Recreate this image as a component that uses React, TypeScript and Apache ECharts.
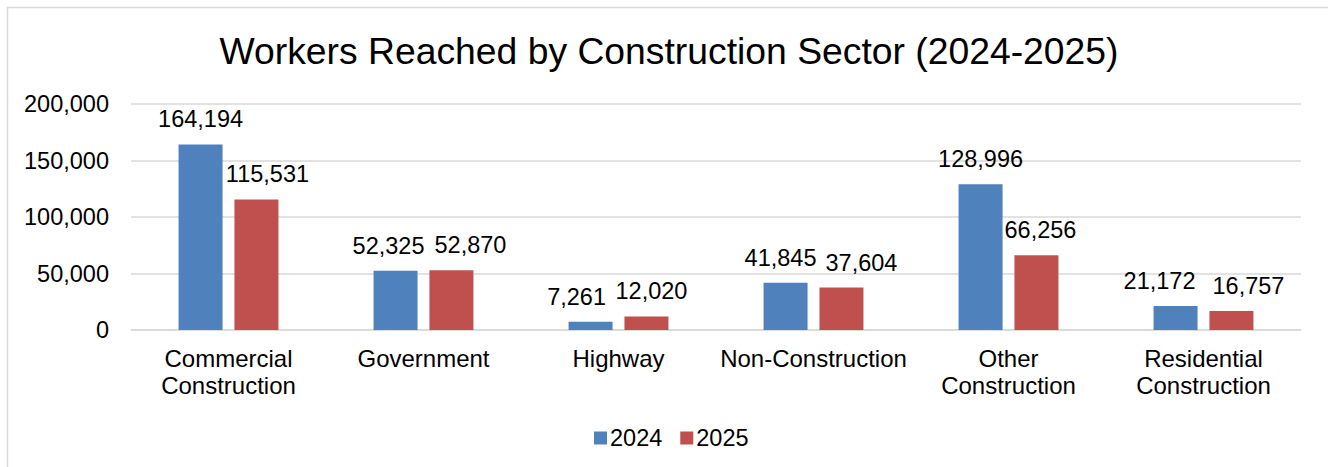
import React, { useEffect, useRef } from "react";
import * as echarts from "echarts";

const categories = [
  "Commercial\nConstruction",
  "Government",
  "Highway",
  "Non-Construction",
  "Other\nConstruction",
  "Residential\nConstruction",
];
const values2024 = [164194, 52325, 7261, 41845, 128996, 21172];
const values2025 = [115531, 52870, 12020, 37604, 66256, 16757];
const seriesNames = ["2024", "2025"];
const yMin = 0;
const yMax = 200000;
const yInterval = 50000;

// horizontal nudges of the data labels (style only, as in the reference)
const labelNudge2024 = [0, -7, -14, -5, 0, -16];
const labelNudge2025 = [11, 19, 5, 20, 4, 17];

const FONT = "'Liberation Sans', Arial, sans-serif";
const fmt = (v: number) => Number(v).toLocaleString("en-US");

export default function App() {
  const ref = useRef<HTMLDivElement>(null);
  useEffect(() => {
    document.body.style.margin = "0";
    const chart = echarts.init(ref.current!, undefined, { renderer: "svg" });
    const labelStyle = {
      show: true,
      position: "top" as const,
      distance: 13,
      fontSize: 23.5,
      color: "#000",
      fontFamily: FONT,
      formatter: (p: any) => fmt(p.value),
    };
    const mk = (vals: number[], nudges: number[]) =>
      vals.map((v, i) => ({ value: v, label: { offset: [nudges[i], 0] } }));
    chart.setOption({
      animation: false,
      backgroundColor: "#fff",
      textStyle: { fontFamily: FONT },
      title: {
        text: "Workers Reached by Construction Sector (2024-2025)",
        left: 664,
        textAlign: "center",
        top: 27,
        textStyle: { fontSize: 37.3, fontWeight: "normal", color: "#000", fontFamily: FONT },
      },
      graphic: [
        {
          type: "rect",
          shape: { x: 7.5, y: 7.5, width: 1340, height: 480 },
          style: { fill: "none", stroke: "#D9D9D9", lineWidth: 1.5 },
          silent: true,
        },
      ],
      legend: {
        data: seriesNames,
        left: 594,
        top: 426,
        itemWidth: 13,
        itemHeight: 13,
        itemGap: 18,
        icon: "rect",
        padding: 0,
        textStyle: { fontSize: 23.5, color: "#000", fontFamily: FONT, padding: [0, 0, 0, -2] },
      },
      grid: { left: 131, right: 27, top: 104, bottom: 137, containLabel: false },
      xAxis: {
        type: "category",
        data: categories,
        axisLine: { show: true, lineStyle: { color: "#D9D9D9", width: 1.5 } },
        axisTick: { show: false },
        axisLabel: {
          fontSize: 24,
          lineHeight: 27,
          color: "#000",
          fontFamily: FONT,
          margin: 15,
          interval: 0,
        },
      },
      yAxis: {
        type: "value",
        min: yMin,
        max: yMax,
        interval: yInterval,
        axisLine: { show: false },
        axisTick: { show: false },
        splitLine: { lineStyle: { color: "#D9D9D9", width: 1.5 } },
        axisLabel: {
          fontSize: 23.5,
          color: "#000",
          fontFamily: FONT,
          margin: 22,
          formatter: (v: number) => fmt(v),
        },
      },
      series: [
        {
          name: seriesNames[0],
          type: "bar",
          data: mk(values2024, labelNudge2024),
          barWidth: 44,
          barGap: "27%",
          itemStyle: { color: "#4F81BD" },
          label: labelStyle,
        },
        {
          name: seriesNames[1],
          type: "bar",
          data: mk(values2025, labelNudge2025),
          barWidth: 44,
          itemStyle: { color: "#C0504D" },
          label: labelStyle,
        },
      ],
    });
    return () => chart.dispose();
  }, []);
  return (
    <div
      ref={ref}
      style={{ position: "absolute", left: 0, top: 0, width: 1328, height: 467 }}
    />
  );
}
